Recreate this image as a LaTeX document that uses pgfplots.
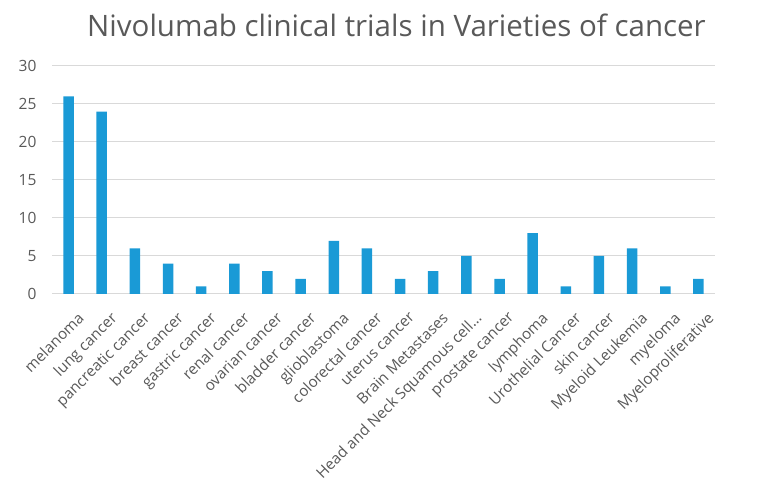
\documentclass[border=0pt]{standalone}
\usepackage{fontspec}
\setmainfont{Open Sans}
\usepackage{pgfplots}
\pgfplotsset{compat=1.18}
\definecolor{barblue}{HTML}{1A9AD6}
\definecolor{txtgray}{HTML}{595959}
\definecolor{gridgray}{HTML}{D9D9D9}
\begin{document}
\begin{tikzpicture}[x=1pt,y=1pt]
\useasboundingbox (0,0) rectangle (771,481);
\node[font=\fontsize{29.5}{34}\selectfont, text=txtgray, anchor=base] at (396.5,444) {Nivolumab clinical trials in Varieties of cancer};
\begin{axis}[
  at={(52pt,187pt)}, anchor=south west,
  scale only axis, width=663pt, height=228pt,
  xmin=-0.5, xmax=19.5, ymin=0, ymax=30,
  ytick={0,5,10,15,20,25,30},
  xtick={0,1,2,3,4,5,6,7,8,9,10,11,12,13,14,15,16,17,18,19},
  xticklabels={melanoma,lung cancer,pancreatic cancer,breast cancer,gastric cancer,renal cancer,ovarian cancer,bladder cancer,glioblastoma,colorectal cancer,uterus cancer,Brain Metastases,{Head and Neck Squamous cell\ldots},prostate cancer,lymphoma,Urothelial Cancer,skin cancer,Myeloid Leukemia,myeloma,Myeloproliferative},
  xticklabel style={xshift=8pt, yshift=-17pt, rotate=45, anchor=north east, font=\fontsize{15.2}{18}\selectfont, text=txtgray, inner sep=0pt},
  yticklabel style={font=\fontsize{15.5}{18}\selectfont, text=txtgray, anchor=east, xshift=-12pt},
  /pgf/number format/assume math mode=true,
  major tick length=0pt,
  ymajorgrids, grid style={gridgray, line width=1pt},
  axis x line*=bottom, axis y line*=left,
  x axis line style={gridgray, line width=1pt},
  y axis line style={draw=none},
  ybar, bar width=10.5pt,
]
\addplot[fill=barblue, draw=none] coordinates {
(0,26) (1,24) (2,6) (3,4) (4,1) (5,4) (6,3) (7,2) (8,7) (9,6)
(10,2) (11,3) (12,5) (13,2) (14,8) (15,1) (16,5) (17,6) (18,1) (19,2)};
\end{axis}
\end{tikzpicture}
\end{document}
